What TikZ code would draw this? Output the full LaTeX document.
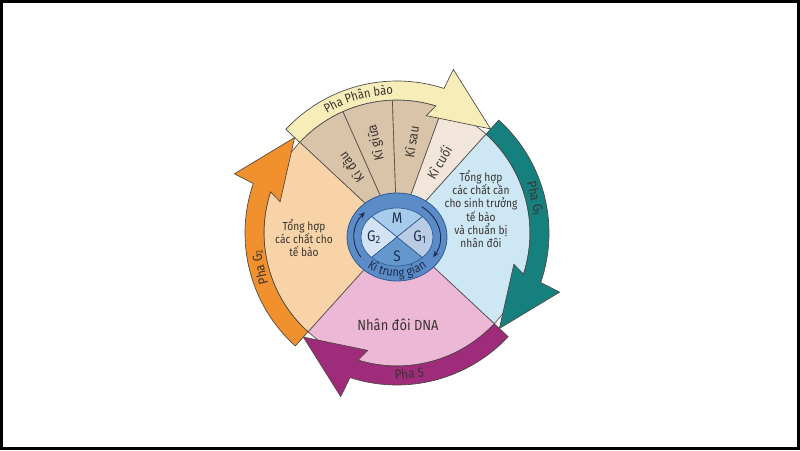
\documentclass[tikz,border=0pt]{standalone}
\usepackage{fontspec}
\setmainfont{Fira Sans}[FakeStretch=0.88]
\usetikzlibrary{arrows.meta,positioning,decorations.text}
\definecolor{peach}{HTML}{F8D3A7}
\definecolor{tanph}{HTML}{D9C3A9}
\definecolor{tanlt}{HTML}{F2E6DA}
\definecolor{skyg}{HTML}{CDE7F4}
\definecolor{pinks}{HTML}{EDB7D6}
\definecolor{creamarr}{HTML}{F7EDB9}
\definecolor{tealarr}{HTML}{16807E}
\definecolor{plumarr}{HTML}{9E2C7B}
\definecolor{orgarr}{HTML}{F0912D}
\definecolor{ringblue}{HTML}{5B8CC8}
\definecolor{ringedge}{HTML}{2E5C94}
\definecolor{qm}{HTML}{A7CBEA}
\definecolor{qgone}{HTML}{BACCE4}
\definecolor{qs}{HTML}{6597CF}
\definecolor{qgtwo}{HTML}{D4E3F3}
\definecolor{ink}{HTML}{3A3430}
\definecolor{navyink}{HTML}{1F2F4F}
\tikzset{
  >={Stealth[length=1.7mm,width=1.4mm]},
  % chu ki
  sect/.style={draw=ink!85,line width=0.5pt},
  band/.style={draw=ink!90,line width=0.5pt},
  stxt/.style={font=\fontsize{8.7}{10}\selectfont,text=ink,align=center,inner sep=0pt},
  ktxt/.style={font=\fontsize{10}{11}\selectfont,text=ink,inner sep=0pt},
  ptxt/.style={font=\fontsize{10}{11}\selectfont,text=ink,inner sep=0pt},
  qtxt/.style={font=\fontsize{11.5}{12}\selectfont,text=navyink,inner sep=0pt},
}
\begin{document}
\begin{tikzpicture}[x=0.75pt,y=0.75pt]
  \fill[white] (0,0) rectangle (800,450);
  \draw[line width=1.9pt] (1.25,1.25) rectangle (798.75,448.75);
  \begin{scope}[shift={(397,217)}]
    \foreach \a/\b/\col in {137/114/tanph,114/92/tanph,92/70/tanph,70/48/tanlt,
        48/-43/skyg,-43/-132/pinks,-132/-223/peach}
      \filldraw[sect,fill=\col] (0,0) -- (\a:133) arc[start angle=\a,end angle=\b,radius=133] -- cycle;
    \foreach \s/\t/\col in {137/48/creamarr,48/-43/tealarr,-43/-132/plumarr,228/137/orgarr} {
      \pgfmathsetmacro\eo{\t+24}\pgfmathsetmacro\ei{\t+25}
      \filldraw[band,fill=\col] (\s:133) -- (\s:152) arc[start angle=\s,end angle=\eo,radius=152]
        -- ({\t+23}:173) -- (\t:140) -- ({\t+28}:121) -- (\ei:133)
        arc[start angle=\ei,end angle=\s,radius=133] -- cycle;
    }
    \path[decorate,decoration={text along path,text align=center,
        text={|\fontsize{9.5}{10}\selectfont\color{ink}|Pha Phân bào}}]
      (132:138.5) arc[start angle=132,end angle=80,radius=138.5];
    \node[ptxt,rotate=-76] (phaGone) at (14:142) {Pha G\textsubscript{1}};
    \node[ptxt,rotate=5] (phaS) at (-85:141) {Pha S};
    \node[ptxt,rotate=104] (phaGtwo) at (194:141) {Pha G\textsubscript{2}};
    \foreach \lab/\ang/\rr [count=\k] in {Kì đầu/125.5/80,Kì giữa/103/93,Kì sau/81/92,Kì cuối/59.5/82}
      \node[ktxt,rotate=\ang] (ki\k) at (\ang:\rr) {\lab};
    \node[stxt] (txtGtwo) at (-93,-5) {Tổng hợp\\các chất cho\\tế bào};
    \node[stxt] (txtGone) at (84,24) {Tổng hợp\\các chất cần\\cho sinh trưởng\\tế bào\\và chuẩn bị\\nhân đôi};
    \node[stxt,font=\fontsize{11}{12}\selectfont] (txtS) at (1,-92) {Nhân đôi DNA};
    % ki trung gian
    \begin{scope}[shift={(0,-4)}]
      \filldraw[draw=ringedge,fill=ringblue,line width=0.6pt] (0,0) ellipse[x radius=50,y radius=44];
      \foreach \a/\col in {45/qm,135/qgtwo,225/qs,315/qgone}
        \filldraw[draw=ringedge,fill=\col,line width=0.5pt] (0,0) -- (\a:36 and 29)
          arc[start angle=\a,end angle=\a+90,x radius=36,y radius=29] -- cycle;
      \draw[->,navyink,line width=0.7pt] (55:43 and 37) arc[start angle=55,end angle=-33,x radius=43,y radius=37];
      \draw[->,navyink,line width=0.7pt] (-147:43 and 37) arc[start angle=-147,end angle=-222,x radius=43,y radius=37];
      \path[decorate,decoration={text along path,text align=center,
          text={|\fontsize{9.5}{10}\selectfont\color{navyink}|Kì trung gian}}]
        (-155:46 and 40) arc[start angle=-155,end angle=-25,x radius=46,y radius=40];
      \node[qtxt] (qM) at (0,19) {M};
      \node[qtxt] (qS) at (0,-19) {S};
      \node[qtxt] (qGtwo) at (-23,0) {G\textsubscript{2}};
      \node[qtxt] (qGone) at (23,0) {G\textsubscript{1}};
    \end{scope}
  \end{scope}
\end{tikzpicture}
\end{document}
